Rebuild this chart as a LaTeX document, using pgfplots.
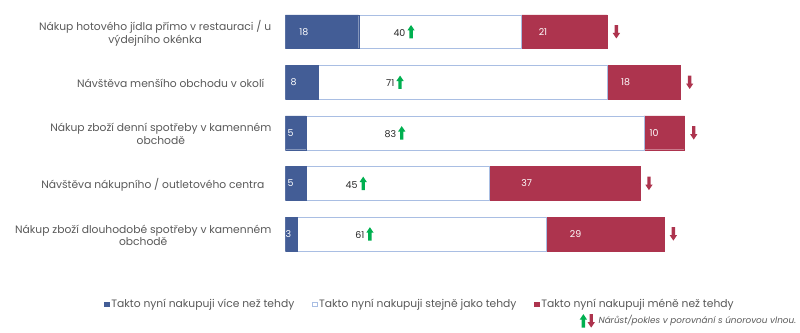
\documentclass[border=0pt]{standalone}
\usepackage{pgfplots}
\pgfplotsset{compat=1.18}
\usepackage{pgfplotstable}
\usepackage{fontspec}
\setmainfont{Poppins}
\definecolor{cblue}{HTML}{435D96}
\definecolor{cred}{HTML}{AD344E}
\definecolor{cborder}{HTML}{A9BEE3}
\definecolor{cgreen}{HTML}{00B050}
\definecolor{ctext}{HTML}{595959}
\pgfplotstableread{
y blue white red
4 18 40 21
3 8 71 18
2 5 83 10
1 5 45 37
0 3 61 29
}\datatable
\newsavebox\uparr
\newsavebox\dnarr
\begin{document}
\sbox\uparr{\tikz[baseline=0pt]\fill[cgreen] (-1.7pt,-2pt) -- (-1.7pt,6pt) -- (-3.7pt,6pt) -- (0,11.5pt) -- (3.7pt,6pt) -- (1.7pt,6pt) -- (1.7pt,-2pt) -- cycle;}
\sbox\dnarr{\tikz[baseline=0pt]\fill[cred] (-1.7pt,11.5pt) -- (-1.7pt,3.5pt) -- (-3.7pt,3.5pt) -- (0,-2pt) -- (3.7pt,3.5pt) -- (1.7pt,3.5pt) -- (1.7pt,11.5pt) -- cycle;}
\begin{tikzpicture}
\useasboundingbox (0,0) rectangle (800pt,335pt);
\begin{axis}[
  at={(282pt,74.1pt)}, anchor=south west,
  scale only axis, width=410pt, height=254.4pt,
  xbar stacked, bar width=34pt,
  xmin=0, xmax=100, ymin=-0.5, ymax=4.5,
  xtick=\empty,
  ytick={0,1,2,3,4},
  yticklabels={{Nákup zboží dlouhodobé spotřeby v kamenném\\obchodě},
               {Návštěva nákupního / outletového centra\hspace{7pt}},
               {Nákup zboží denní spotřeby v kamenném\\obchodě},
               {Návštěva menšího obchodu v okolí\hspace{7pt}},
               {Nákup hotového jídla přímo v restauraci / u\\výdejního okénka}},
  yticklabel style={align=center, font=\fontsize{10.8}{13}\selectfont, text=ctext, inner sep=0pt, xshift=-14pt, yshift=-1.5pt},
  axis line style={draw=none},
  major tick length=0pt,
  legend columns=3,
  legend style={draw=none, at={(0.3305,-0.178)}, anchor=center, font=\fontsize{10.8}{12}\selectfont, text=ctext,
    /tikz/every even column/.append style={column sep=16pt}},
  legend cell align=left,
  mylegend/.style={legend image code/.code={\draw[##1] (0pt,-2.3pt) rectangle (4.6pt,2.3pt);}},
  point meta=explicit symbolic,
  every node near coord/.style={anchor=center, xshift=-\pgfplotspointmeta*1.025pt, font=\fontsize{9.5}{10}\selectfont},
]
\addplot[fill=cblue, draw=cblue, mylegend,
  nodes near coords={\textcolor{white}{\pgfplotspointmeta}}]
  table[x=blue, y=y, meta=blue]{\datatable};
\addlegendentry{Takto nyní nakupuji více než tehdy}
\addplot[fill=white, draw=cborder, mylegend,
  nodes near coords={\textcolor{black!85}{\pgfplotspointmeta}\rlap{\hspace{2pt}\usebox\uparr}}]
  table[x=white, y=y, meta=white]{\datatable};
\addlegendentry{Takto nyní nakupuji stejně jako tehdy}
\addplot[fill=cred, draw=cred, mylegend,
  nodes near coords={\textcolor{white}{\pgfplotspointmeta}}]
  table[x=red, y=y, meta=red]{\datatable};
\addlegendentry{Takto nyní nakupuji méně než tehdy}
\end{axis}
\begin{axis}[
  at={(282pt,74.1pt)}, anchor=south west,
  scale only axis, width=410pt, height=254.4pt,
  xmin=0, xmax=100, ymin=-0.5, ymax=4.5,
  hide axis, clip=false,
  every node near coord/.style={anchor=west, xshift=2pt},
]
\addplot[only marks, mark=*, mark size=0pt, mark options={draw=none, fill=none}, draw=none,
  nodes near coords={\usebox\dnarr}]
  table[x expr=\thisrow{blue}+\thisrow{white}+\thisrow{red}, y=y]{\datatable};
\end{axis}
\node[anchor=west, inner sep=0pt] at (578pt,12pt) {\usebox\uparr\hspace{0.5pt}\usebox\dnarr};
\node[anchor=west, inner sep=0pt, font=\itshape\fontsize{8.9}{10}\selectfont, text=ctext] at (597pt,12.5pt) {Nárůst/pokles v porovnání s únorovou vlnou.};
\end{tikzpicture}
\end{document}
